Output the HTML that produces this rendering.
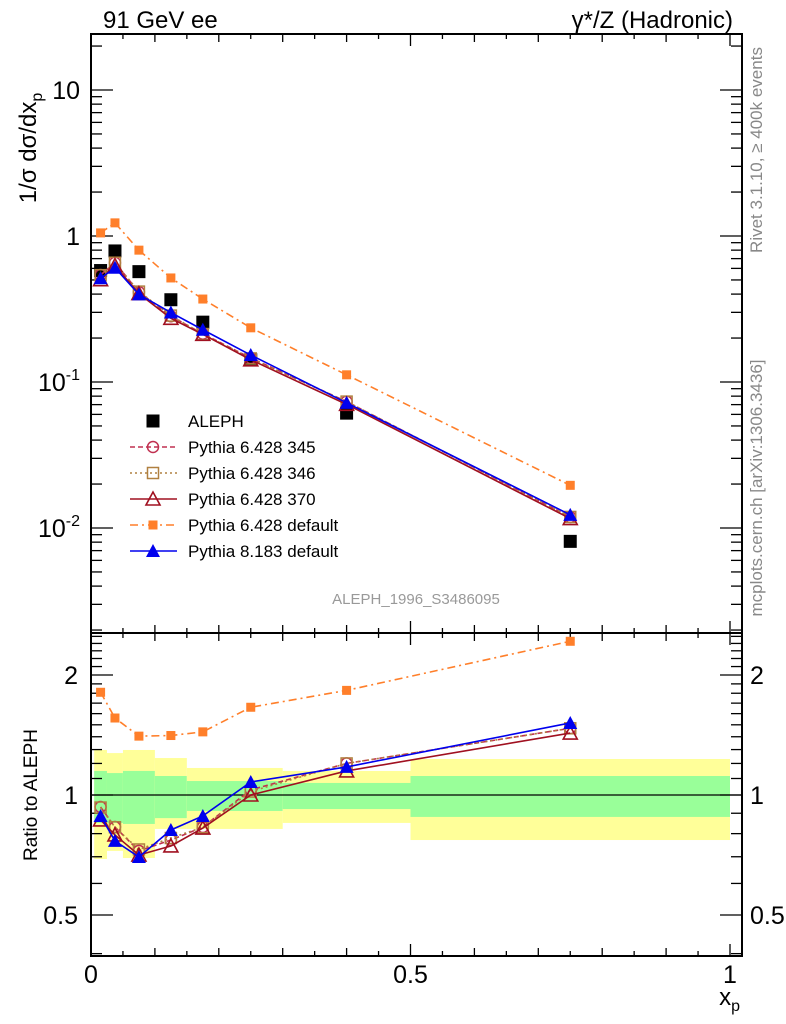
<!DOCTYPE html>
<html><head><meta charset="utf-8"><style>
html,body{margin:0;padding:0;background:#fff;}
svg{display:block;font-family:"Liberation Sans",sans-serif;}
</style></head><body>
<svg id="c" width="786" height="1024" xmlns="http://www.w3.org/2000/svg"></svg>
<script>
const xCenters=[0.015,0.0375,0.075,0.125,0.175,0.25,0.4,0.75];
const aleph=[0.58,0.79,0.57,0.366,0.257,0.142,0.0612,0.0081];
const p345=[0.541,0.656,0.413,0.282,0.214,0.146,0.0734,0.0119];
const p346=[0.539,0.656,0.416,0.285,0.213,0.145,0.0734,0.0119];
const p370=[0.502,0.627,0.403,0.273,0.212,0.142,0.0703,0.0116];
const p6def=[1.05,1.23,0.80,0.516,0.37,0.235,0.112,0.0196];
const p8def=[0.514,0.606,0.398,0.299,0.228,0.153,0.072,0.0123];
const r345=[0.933,0.831,0.724,0.771,0.831,1.03,1.2,1.47];
const r346=[0.93,0.83,0.73,0.78,0.83,1.02,1.2,1.47];
const r370=[0.866,0.794,0.707,0.745,0.826,1.0,1.149,1.43];
const r6def=[1.81,1.56,1.405,1.41,1.44,1.66,1.83,2.43];
const r8def=[0.886,0.767,0.699,0.817,0.886,1.078,1.176,1.516];
const binEdges=[0.005,0.025,0.05,0.1,0.15,0.3,0.5,1.0];
const yellowHi=[1.297,1.274,1.297,1.238,1.169,1.149,1.231];
const yellowLo=[0.691,0.724,0.695,0.822,0.822,0.851,0.771];
const greenHi=[1.149,1.135,1.149,1.116,1.084,1.072,1.116];
const greenLo=[0.851,0.851,0.846,0.875,0.912,0.922,0.881];
const xTicks=[0,0.5,1];
const mainTicks=[0.01,0.1,1,10];
const mainTickLabels=["10","10","1","10"];
const ratioTicks=[0.5,1,2];

const NS="http://www.w3.org/2000/svg";
const svg=document.getElementById('c');
const L=91,R=742,T=34,MB=633,RB=956;
function X(v){return 91+v*639;}
function YM(v){return 236-146*Math.log10(v);}
function YR(v){return 795-120*Math.log2(v);}
function el(tag,attrs,parent){const e=document.createElementNS(NS,tag);for(const k in attrs)e.setAttribute(k,attrs[k]);(parent||svg).appendChild(e);return e;}

// bands
for(let i=0;i<binEdges.length-1;i++){
  const y=el('rect',{x:X(binEdges[i]),y:YR(yellowHi[i]),width:X(binEdges[i+1])-X(binEdges[i]),height:YR(yellowLo[i])-YR(yellowHi[i]),fill:'#ffff99'});
  
  
  const g=el('rect',{x:X(binEdges[i]),y:YR(greenHi[i]),width:X(binEdges[i+1])-X(binEdges[i]),height:YR(greenLo[i])-YR(greenHi[i]),fill:'#99ff99'});
  
  
}
el('line',{x1:L,x2:R,y1:YR(1),y2:YR(1),stroke:'#000','stroke-width':1.3});

// frames
const f1=el('rect',{x:L,y:T,width:R-L,height:MB-T,fill:'none',stroke:'#000','stroke-width':2});

const f2=el('rect',{x:L,y:MB,width:R-L,height:RB-MB,fill:'none',stroke:'#000','stroke-width':2});


// x ticks
for(let k=0;k<=20;k++){
  const v=k*0.05, x=X(v), len=(k%10==0)?12:(k%2==0?8:5);
  for(const [yb,yt] of [[MB,T],[RB,MB]]){
    el('line',{x1:x,x2:x,y1:yb,y2:yb-len,stroke:'#000','stroke-width':1.3});
    el('line',{x1:x,x2:x,y1:yt,y2:yt+len,stroke:'#000','stroke-width':1.3});
  }
}
xTicks.forEach(v=>{const t=el('text',{x:X(v),y:983,'font-size':25,'text-anchor':'middle'});t.textContent=String(v);
});
const xt=el('text',{x:740,y:1005,'font-size':24,'text-anchor':'end'});xt.innerHTML='x<tspan font-size="16" dy="6">p</tspan>';


// main y ticks (log)
for(let d=-3;d<=1;d++){for(let m=1;m<10;m++){const v=m*Math.pow(10,d);const y=YM(v);if(y<T||y>MB)continue;const len=m==1?22:11;
 el('line',{x1:L,x2:L+len,y1:y,y2:y,stroke:'#000','stroke-width':1.3});
 el('line',{x1:R,x2:R-len,y1:y,y2:y,stroke:'#000','stroke-width':1.3});}}
mainTicks.forEach((v,i)=>{const t=el('text',{x:80,y:YM(v)+9,'font-size':25,'text-anchor':'end'});
 if(v<1){t.innerHTML=mainTickLabels[i]+'<tspan font-size="16" dy="-11">'+Math.round(Math.log10(v))+'</tspan>';}else t.textContent=mainTickLabels[i];
 });
// ratio y ticks
const rt=[0.4,0.5,0.6,0.7,0.8,0.9,1,1.1,1.2,1.3,1.4,1.5,1.6,1.7,1.8,1.9,2,2.1,2.2,2.3,2.4,2.5];
rt.forEach(v=>{const y=YR(v);if(y<MB||y>RB)return;const len=(v==0.5||v==1||v==2)?22:11;
 el('line',{x1:L,x2:L+len,y1:y,y2:y,stroke:'#000','stroke-width':1.3});
 el('line',{x1:R,x2:R-len,y1:y,y2:y,stroke:'#000','stroke-width':1.3});});
ratioTicks.forEach(v=>{for(const [x,a] of [[78,'end'],[750,'start']]){const t=el('text',{x:x,y:YR(v)+9,'font-size':25,'text-anchor':a});t.textContent=String(v);
 }});

// titles
let t=el('text',{x:103,y:28,'font-size':24});t.textContent='91 GeV ee';
t=el('text',{x:733,y:28,'font-size':24,'text-anchor':'end'});t.textContent='γ*/Z (Hadronic)';
t=el('text',{x:0,y:0,'font-size':24,transform:'translate(36,148) rotate(-90)','text-anchor':'middle'});t.innerHTML='1/σ dσ/dx<tspan font-size="16" dy="6">p</tspan>';

t=el('text',{x:0,y:0,'font-size':19,transform:'translate(37,795) rotate(-90)','text-anchor':'middle'});t.textContent='Ratio to ALEPH';

t=el('text',{x:0,y:0,'font-size':17,fill:'#888',transform:'translate(762,150) rotate(-90)','text-anchor':'middle'});t.textContent='Rivet 3.1.10, ≥ 400k events';

t=el('text',{x:0,y:0,'font-size':17,fill:'#888',transform:'translate(762,488) rotate(-90)','text-anchor':'middle'});t.textContent='mcplots.cern.ch [arXiv:1306.3436]';

t=el('text',{x:416,y:604,'font-size':15,fill:'#999','text-anchor':'middle'});t.textContent='ALEPH_1996_S3486095';


function marker(kind,x,y,color,parent){
  if(kind=='bigsq')return el('rect',{x:x-6.5,y:y-6.5,width:13,height:13,fill:'#000'},parent);
  if(kind=='sq')return el('rect',{x:x-4.5,y:y-4.5,width:9,height:9,fill:color},parent);
  if(kind=='osq')return el('rect',{x:x-5.5,y:y-5.5,width:11,height:11,fill:'none',stroke:color,'stroke-width':1.5},parent);
  if(kind=='circ')return el('circle',{cx:x,cy:y,r:5.5,fill:'none',stroke:color,'stroke-width':1.5},parent);
  if(kind=='otri')return el('polygon',{points:`${x},${y-7} ${x-7},${y+6} ${x+7},${y+6}`,fill:'none',stroke:color,'stroke-width':1.6},parent);
  if(kind=='tri')return el('polygon',{points:`${x},${y-7} ${x-7},${y+6} ${x+7},${y+6}`,fill:color},parent);
}
aleph.forEach((v,i)=>{const m=marker('bigsq',X(xCenters[i]),YM(v),'#000');
  
  });
const series=[
 {name:'pythia-6428-345',main:p345,ratio:r345,color:'#c03050',dash:'5,3',mk:'circ',label:'Pythia 6.428 345'},
 {name:'pythia-6428-346',main:p346,ratio:r346,color:'#b08040',dash:'2,3',mk:'osq',label:'Pythia 6.428 346'},
 {name:'pythia-6428-370',main:p370,ratio:r370,color:'#a01020',dash:'',mk:'otri',label:'Pythia 6.428 370'},
 {name:'pythia-6428-default',main:p6def,ratio:r6def,color:'#ff7f2a',dash:'8,4,2,4',mk:'sq',label:'Pythia 6.428 default'},
 {name:'pythia-8183-default',main:p8def,ratio:r8def,color:'#0000ee',dash:'',mk:'tri',label:'Pythia 8.183 default'}
];
series.forEach(s=>{
  for(const [vals,Y] of [[s.main,YM],[s.ratio,YR]]){
    const g=el('g',{});
    
    
    const pts=vals.map((v,i)=>X(xCenters[i])+','+Y(v)).join(' ');
    const pl=el('polyline',{points:pts,fill:'none',stroke:s.color,'stroke-width':1.6},g);
    if(s.dash)pl.setAttribute('stroke-dasharray',s.dash);
    vals.forEach((v,i)=>{const m=marker(s.mk,X(xCenters[i]),Y(v),s.color,g);
      
      });
  }
});

// legend
const lg=el('g',{});


const rows=[{mk:'bigsq',label:'ALEPH',color:'#000',dash:null}].concat(series.map(s=>({mk:s.mk,label:s.label,color:s.color,dash:s.dash})));
rows.forEach((r,i)=>{
  const y=421+i*26;
  const g=el('g',{},lg);
  
  
  if(r.dash!==null){const l=el('line',{x1:130,x2:177,y1:y,y2:y,stroke:r.color,'stroke-width':1.6},g);if(r.dash)l.setAttribute('stroke-dasharray',r.dash);}
  marker(r.mk,153,y,r.color,g);
  const tx=el('text',{x:188,y:y+6,'font-size':17},g);tx.textContent=r.label;
});
</script>
</body></html>
